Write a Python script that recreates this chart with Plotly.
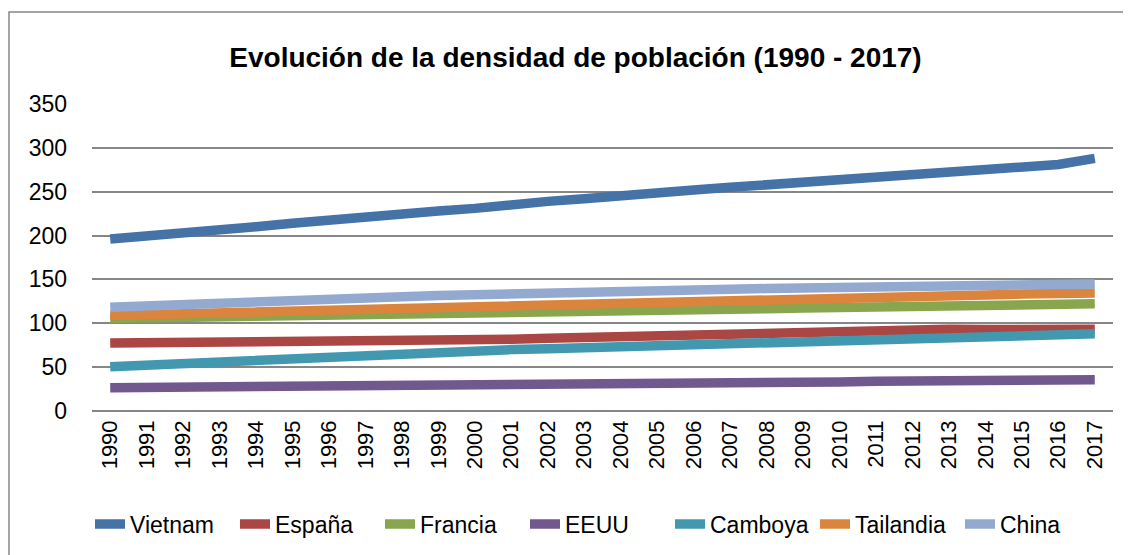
import plotly.graph_objects as go

years = [str(y) for y in range(1990, 2018)]

vietnam = [196, 199, 203, 207, 210, 214, 218, 221, 225, 228, 231, 236, 239, 242,
           246, 249, 252, 255, 258, 261, 264, 266, 269, 272, 275, 278, 281, 288]
espana = [77.5, 77.7, 78.0, 78.2, 78.4, 78.6, 78.8, 79.0, 79.4, 80.0, 81.0, 81.8, 82.8, 83.8,
          85.0, 86.3, 87.7, 89.2, 90.6, 91.8, 92.7, 93.3, 93.6, 93.3, 93.0, 92.9, 93.0, 93.2]
francia = [105.5, 106.0, 106.5, 107.0, 107.4, 107.8, 108.2, 108.6, 109.0, 109.5, 110.0, 110.8,
           111.6, 112.5, 113.4, 114.3, 115.3, 116.0, 116.7, 117.3, 117.9, 118.5, 119.1, 119.7,
           120.4, 121.0, 121.6, 122.2]
eeuu = [26.6, 26.8, 27.1, 27.4, 27.7, 28.0, 28.3, 28.6, 28.9, 29.2, 29.5, 29.8, 30.1, 30.4,
        30.7, 31.0, 31.3, 31.4, 31.5, 31.6, 33.2, 34.0, 34.3, 34.6, 34.9, 35.1, 35.3, 35.5]
camboya = [50.5, 52.5, 54.0, 56.0, 58.5, 60.5, 62.5, 64.0, 65.5, 67.0, 68.5, 70.0, 71.0, 72.0,
           73.5, 74.5, 75.5, 76.5, 77.5, 78.5, 79.5, 81.0, 82.0, 83.0, 84.5, 85.5, 87.0, 88.0]
tailandia = [109.0, 110.0, 111.0, 112.0, 113.0, 114.5, 116.0, 117.5, 118.5, 119.5, 120.5, 121.5,
             122.5, 123.5, 124.5, 125.6, 126.7, 127.6, 128.4, 129.1, 129.8, 130.5, 131.2,
             131.9, 132.6, 133.3, 134.0, 134.6]
china = [118.2, 120.0, 121.7, 123.3, 124.8, 126.3, 127.7, 129.0, 130.3, 131.6, 132.8, 134.0,
         135.0, 135.9, 136.7, 137.5, 138.2, 138.9, 139.6, 140.3, 141.0, 141.6, 142.3, 143.0,
         143.6, 144.1, 144.5, 144.9]

series = [
    ("Vietnam", vietnam, "#4572A7"),
    ("España", espana, "#AA4643"),
    ("Francia", francia, "#89A54E"),
    ("EEUU", eeuu, "#71588F"),
    ("Camboya", camboya, "#4198AF"),
    ("Tailandia", tailandia, "#DB843D"),
    ("China", china, "#93A9CF"),
]

FONT = "Liberation Sans, Arial, sans-serif"

fig = go.Figure()
for name, vals, color in series:
    fig.add_trace(go.Scatter(x=years, y=vals, name=name, mode="lines",
                             line=dict(color=color, width=9.5)))

W, H = 1131, 555
OFF = 8  # page body margin offset
L, T = 92 - OFF, 104 - OFF
pw, ph = 1021, 307
R = W - L - pw
B = H - T - ph

fig.update_layout(
    width=W, height=H,
    margin=dict(l=L, r=R, t=T, b=B),
    paper_bgcolor="white", plot_bgcolor="white",
    font=dict(family=FONT, color="black"),
    title=dict(text="<b>Evolución de la densidad de población (1990 - 2017)</b>",
               font=dict(size=28, family=FONT, color="black"),
               x=(575.5 - OFF) / W, xref="container", xanchor="center",
               y=1 - (57 - OFF) / H, yref="container", yanchor="middle"),
    xaxis=dict(type="category", range=[-0.5, 27.5], tickangle=-90,
               tickfont=dict(size=22), showgrid=False, showline=False,
               ticks="", zeroline=False, ticklabelstandoff=4),
    yaxis=dict(range=[0, 350], dtick=50, tickfont=dict(size=23),
               showgrid=True, gridcolor="#868686", gridwidth=1.5,
               zeroline=True, zerolinecolor="#868686", zerolinewidth=1.5,
               showline=False, ticks="", ticklabelstandoff=24),
    showlegend=True,
    legend=dict(orientation="h", xref="container", yref="container",
                x=(90 - OFF) / W, xanchor="left", y=1 - (524 - OFF) / H, yanchor="middle",
                font=dict(size=23), entrywidth=100, entrywidthmode="pixels",
                bgcolor="rgba(0,0,0,0)"),
    shapes=[dict(type="rect", xref="paper", yref="paper",
                 x0=(9 - OFF - L) / pw, x1=(1145 - L) / pw,
                 y0=(T + ph - 570) / ph, y1=(T + ph - (12 - OFF)) / ph,
                 line=dict(color="#868686", width=1.5), fillcolor="rgba(0,0,0,0)")],
)

fig.write_html("out.html")
